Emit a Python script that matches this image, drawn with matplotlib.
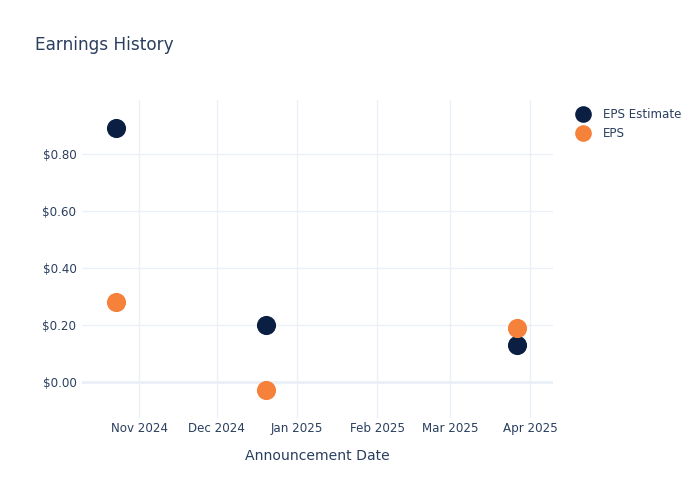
import matplotlib
matplotlib.use("Agg")
import matplotlib.pyplot as plt
import matplotlib.dates as mdates
from matplotlib.lines import Line2D
import datetime as dt

dates = ["2024-10-23", "2024-12-20", "2025-03-27"]
eps_estimate = [0.89, 0.20, 0.13]
eps_actual = [0.28, -0.03, 0.19]
series_names = ["EPS Estimate", "EPS"]
title = "Earnings History"
x_title = "Announcement Date"

navy = "#0B1F42"
orange = "#F6813A"
text_c = "#2A3F5F"
grid_c = "#EBF0F8"

x = [dt.datetime.strptime(d, "%Y-%m-%d") for d in dates]

plt.rcParams['font.family'] = ['DejaVu Sans']
fig = plt.figure(figsize=(7, 5), dpi=100)
ax = fig.add_axes([82/700, 1-418/500, (553-82)/700, (418-100)/500])

ms = 190
ax.scatter(x, eps_estimate, s=ms, color=navy, zorder=3, linewidths=0)
ax.scatter(x, eps_actual, s=ms, color=orange, zorder=3, linewidths=0)

ax.set_xlim(dt.datetime(2024, 10, 9, 22), dt.datetime(2025, 4, 9, 19))
ax.set_ylim(-0.127, 0.99)
ax.set_yticks([0, 0.2, 0.4, 0.6, 0.8])
ax.yaxis.set_major_formatter(matplotlib.ticker.FuncFormatter(lambda v, p: f"${v:.2f}"))
ax.xaxis.set_major_locator(mdates.MonthLocator())
ax.xaxis.set_major_formatter(mdates.DateFormatter("%b %Y"))

for s in ax.spines.values():
    s.set_visible(False)
ax.grid(True, color=grid_c, linewidth=1, zorder=0)
ax.axhline(0, color=grid_c, linewidth=2, zorder=1)
ax.tick_params(axis='both', length=0, colors=text_c, labelsize=8.6)
ax.tick_params(axis='y', pad=4)
ax.tick_params(axis='x', pad=3)
ax.set_axisbelow(True)

fig.text(35/700, 1-45/500, title, fontsize=12.2, color=text_c, va='center', ha='left')
fig.text(317/700, 1-456/500, x_title, fontsize=10.1, color=text_c, va='center', ha='center')

handles = [Line2D([0], [0], marker='o', linestyle='none', markersize=12, markerfacecolor=c, markeredgewidth=0)
           for c in (navy, orange)]
leg = fig.legend(handles, series_names, loc='upper left', bbox_to_anchor=(574/700, 1-108/500),
                 frameon=False, fontsize=8.6, labelcolor=text_c, handletextpad=0.95,
                 labelspacing=0.5, borderaxespad=0, borderpad=0, handlelength=1.5)

fig.savefig("out.png", dpi=100)
